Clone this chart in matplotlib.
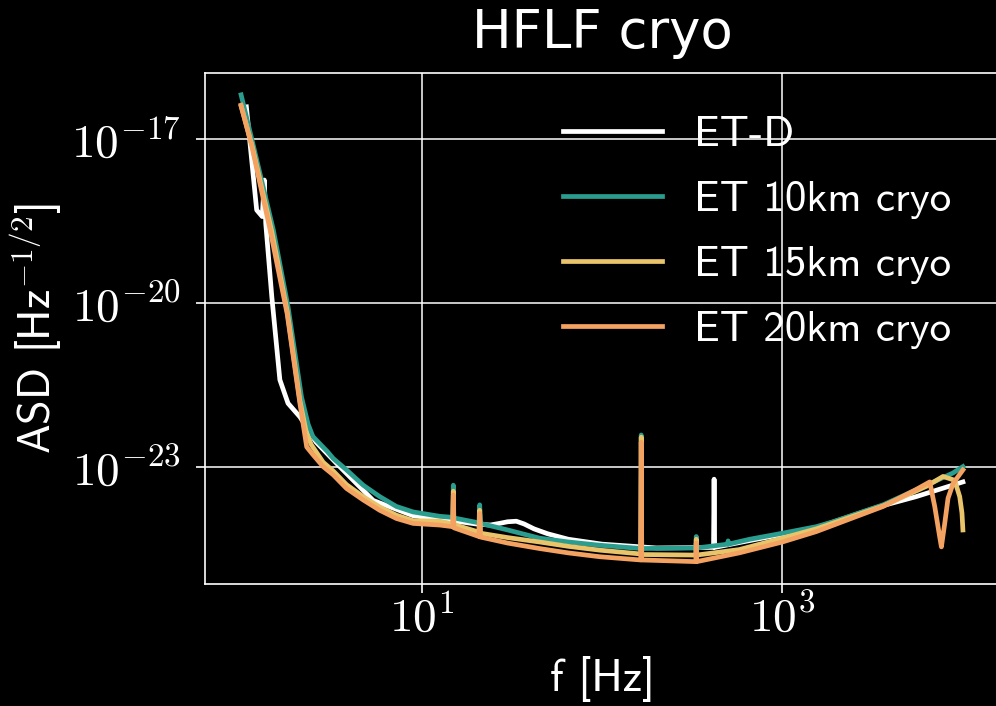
import numpy as np
import matplotlib
matplotlib.use("Agg")
import matplotlib.pyplot as plt
from matplotlib.ticker import NullLocator

# ASD curves (frequency in Hz, log10 of ASD in Hz^-1/2)
f_etd = [1.07, 1.15, 1.22, 1.31, 1.345, 1.37, 1.48, 1.64, 1.82, 2.12, 2.6, 3.52, 5.4, 9.0,
         14.0, 20.0, 24.0, 27.0, 30.0, 33.5, 37.0, 42.0, 50.0, 65.0, 100.0, 200.0, 415.0,
         418.0, 421.0, 600.0, 1000.0, 1540.0, 3460.0, 5500.0, 10000.0]
exp_etd = [-16.41, -17.45, -18.30, -18.42, -17.75, -18.55, -19.89, -21.41, -21.84, -22.09,
           -22.55, -23.00, -23.62, -23.90, -23.98, -24.05, -24.07, -24.04, -24.01, -24.00,
           -24.05, -24.14, -24.23, -24.33, -24.42, -24.49, -24.48, -23.23, -24.48, -24.38,
           -24.24, -24.12, -23.73, -23.55, -23.28]

f_10km = [1.0, 1.15, 1.51, 1.82, 2.16, 2.35, 2.5, 3.0, 3.24, 3.84, 4.75, 5.87, 7.26, 8.98,
          12.6, 14.9, 15.0, 15.1, 20.8, 21.0, 21.2, 30.0, 45.0, 65.0, 97.0, 164.0, 165.0,
          166.0, 331.0, 333.0, 335.0, 498.0, 500.0, 502.0, 659.0, 1000.0, 1540.0, 1905.0,
          3610.0, 6280.0, 8770.0, 10000.0]
exp_10km = [-16.19, -17.02, -18.67, -20.07, -21.72, -22.22, -22.45, -22.72, -22.85, -23.06,
            -23.34, -23.55, -23.73, -23.83, -23.91, -23.93, -23.34, -23.94, -24.03, -23.70,
            -24.04, -24.16, -24.31, -24.38, -24.44, -24.50, -22.42, -24.50, -24.49, -24.28,
            -24.49, -24.42, -24.36, -24.42, -24.33, -24.22, -24.10, -24.01, -23.70, -23.34,
            -23.12, -23.00]

f_15km = [1.0, 1.15, 1.48, 1.8, 2.12, 2.3, 2.45, 2.85, 3.24, 3.84, 4.75, 5.87, 7.26, 8.98,
          12.6, 14.9, 15.0, 15.1, 20.8, 21.0, 21.2, 30.0, 45.0, 65.0, 97.0, 164.0, 165.0,
          166.0, 331.0, 333.0, 335.0, 576.0, 1000.0, 1540.0, 3610.0, 6280.0, 7760.0, 9000.0,
          9600.0, 9880.0, 10000.0]
exp_15km = [-16.40, -17.12, -18.70, -20.15, -21.80, -22.38, -22.60, -22.92, -23.08, -23.33,
            -23.55, -23.74, -23.89, -23.99, -24.00, -24.05, -23.45, -24.06, -24.20, -23.80,
            -24.22, -24.30, -24.38, -24.46, -24.53, -24.60, -22.46, -24.61, -24.62, -24.33,
            -24.62, -24.52, -24.31, -24.14, -23.72, -23.36, -23.18, -23.25, -23.55, -23.85,
            -24.16]

f_20km = [1.0, 1.15, 1.45, 1.8, 2.12, 2.31, 2.5, 2.85, 3.24, 3.84, 4.75, 5.87, 7.26, 8.98,
          12.6, 14.9, 15.0, 15.1, 20.8, 21.0, 21.2, 30.0, 45.0, 65.0, 97.0, 164.0, 165.0,
          166.0, 331.0, 333.0, 335.0, 576.0, 1000.0, 1540.0, 3610.0, 5500.0, 6550.0, 6980.0,
          7430.0, 7600.0, 7930.0, 8270.0, 8820.0, 10000.0]
exp_20km = [-16.38, -17.15, -18.67, -20.20, -21.85, -22.64, -22.78, -23.00, -23.15, -23.40,
            -23.61, -23.80, -23.95, -24.04, -24.07, -24.10, -23.52, -24.12, -24.28, -23.86,
            -24.29, -24.40, -24.50, -24.58, -24.65, -24.71, -22.55, -24.71, -24.74, -24.40,
            -24.74, -24.58, -24.38, -24.19, -23.73, -23.42, -23.28, -23.73, -24.28, -24.47,
            -24.04, -23.58, -23.31, -23.06]

labels = ["ET-D", "ET 10km cryo", "ET 15km cryo", "ET 20km cryo"]
colors = ["#ffffff", "#2a9d8f", "#e9c46a", "#f4a261"]

x_ticks = [1e1, 1e3]
x_tick_labels = [r"$10^{1}$", r"$10^{3}$"]
y_ticks = [1e-23, 1e-20, 1e-17]
y_tick_labels = [r"$10^{-23}$", r"$10^{-20}$", r"$10^{-17}$"]

plt.rcParams["font.family"] = ["cmss10", "DejaVu Sans"]
plt.rcParams["mathtext.fontset"] = "cm"

fig = plt.figure(figsize=(9.96, 7.06), dpi=100, facecolor="black")
ax = fig.add_axes([205 / 996, 122 / 706, 794 / 996, 511 / 706], facecolor="black")

curves = [(f_etd, exp_etd), (f_10km, exp_10km), (f_15km, exp_15km), (f_20km, exp_20km)]
for (f, e), lab, c in zip(curves, labels, colors):
    ax.plot(f, 10.0 ** np.array(e), color=c, lw=3.4, label=lab, solid_joinstyle="round")

ax.set_xscale("log")
ax.set_yscale("log")
ax.set_xlim(10 ** -0.2, 10 ** 4.2)
ax.set_ylim(10 ** -25.15, 10 ** -15.79)
ax.set_xticks(x_ticks, labels=x_tick_labels)
ax.set_yticks(y_ticks, labels=y_tick_labels)
ax.xaxis.set_minor_locator(NullLocator())
ax.yaxis.set_minor_locator(NullLocator())

ax.grid(True, color="white", lw=1.1)
for s in ax.spines.values():
    s.set_color("white")
    s.set_linewidth(1.2)
ax.tick_params(colors="white", labelsize=34, length=6.5, width=1.2)
ax.tick_params(axis="y", pad=11)
ax.tick_params(axis="x", pad=1)

ax.set_xlabel("f [Hz]", color="white", fontsize=32, labelpad=11)
ax.set_ylabel(r"ASD [Hz$^{-1/2}$]", color="white", fontsize=32, labelpad=5)
ax.set_title("HFLF cryo", color="white", fontsize=38, pad=18, family="DejaVu Sans")

ax.legend(loc="upper left", bbox_to_anchor=(563 / 996, 1 - 116 / 706),
          bbox_transform=fig.transFigure, frameon=False, fontsize=31,
          handlelength=2.3, handletextpad=0.74, labelspacing=0.62, borderpad=0,
          borderaxespad=0, labelcolor="white")

fig.savefig("out.png", dpi=100, facecolor="black")
